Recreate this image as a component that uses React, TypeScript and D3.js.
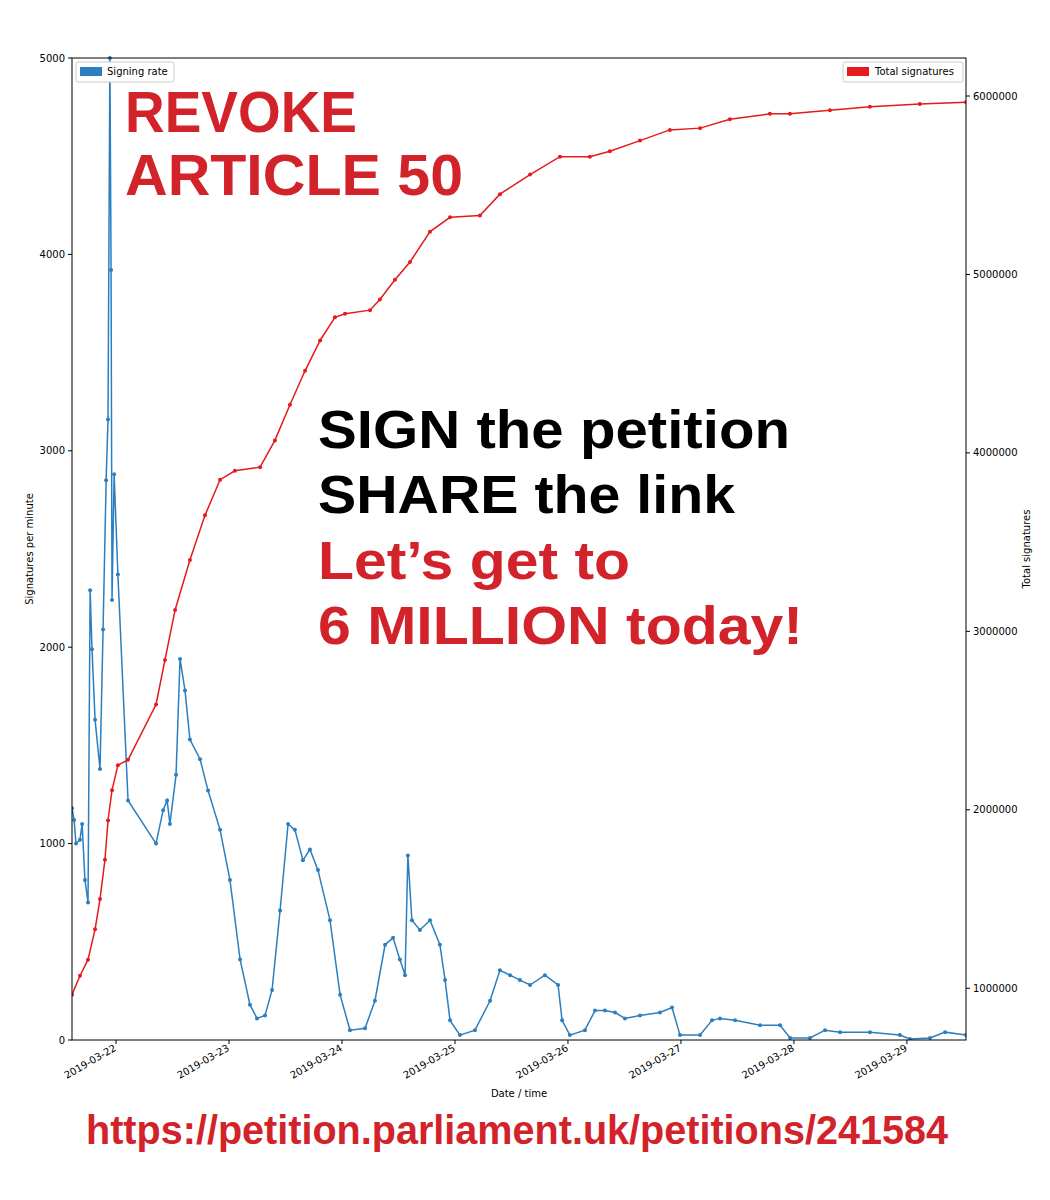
import React from "react";
import * as d3 from "d3";

// hours after 2019-03-21 00:00
const rateHours = [14.65, 15.1, 15.5, 16.35, 16.8, 17.4, 18.05, 18.5, 18.9, 19.55, 20.6, 21.25, 21.9, 22.3, 22.7, 22.95, 23.15, 23.6, 24.4, 26.55, 32.5, 34.0, 34.85, 35.45, 36.75, 37.6, 38.65, 39.7, 41.85, 43.55, 46.1, 48.2, 50.35, 52.45, 53.95, 55.65, 57.15, 58.85, 60.55, 62.0, 63.7, 65.2, 66.9, 69.45, 71.6, 73.7, 76.9, 79.0, 81.15, 82.85, 84.3, 85.4, 86.0, 86.85, 88.55, 90.7, 92.8, 93.9, 94.95, 97.05, 100.25, 103.45, 105.55, 107.7, 109.8, 111.95, 115.1, 117.9, 118.75, 120.4, 123.6, 125.75, 127.85, 130.0, 132.1, 135.3, 139.55, 142.1, 143.8, 148.05, 150.6, 152.3, 155.5, 160.8, 165.05, 167.2, 171.4, 174.6, 177.8, 184.15, 190.5, 192.65, 196.9, 200.1, 204.55];
const rateValues = [1180, 1120, 1000, 1020, 1100, 815, 700, 2290, 1990, 1630, 1380, 2090, 2850, 3160, 5000, 3920, 2240, 2880, 2370, 1220, 1000, 1170, 1220, 1100, 1350, 1940, 1780, 1530, 1430, 1270, 1070, 815, 410, 180, 110, 125, 255, 660, 1100, 1070, 915, 970, 865, 610, 230, 50, 60, 200, 485, 520, 410, 330, 940, 610, 560, 610, 485, 305, 100, 25, 50, 200, 355, 330, 305, 280, 330, 280, 100, 25, 50, 150, 150, 140, 110, 125, 140, 165, 25, 25, 100, 110, 100, 75, 75, 10, 10, 50, 40, 40, 25, 5, 10, 40, 25];

const totalHours = [14.65, 16.35, 18.05, 19.55, 20.6, 21.65, 22.3, 23.15, 24.4, 26.55, 32.5, 34.4, 36.55, 39.7, 42.9, 46.1, 49.25, 54.6, 57.75, 60.95, 64.15, 67.35, 70.5, 72.65, 77.95, 80.05, 83.25, 86.45, 90.7, 94.95, 101.3, 105.55, 111.95, 118.3, 124.65, 128.9, 135.3, 141.65, 148.05, 154.4, 162.9, 167.15, 175.65, 184.15, 194.75, 204.55];
const totalValues = [964000, 1070000, 1160000, 1330000, 1500000, 1720000, 1940000, 2110000, 2250000, 2280000, 2590000, 2840000, 3120000, 3400000, 3650000, 3850000, 3900000, 3920000, 4070000, 4270000, 4460000, 4630000, 4760000, 4780000, 4800000, 4860000, 4970000, 5070000, 5240000, 5320000, 5330000, 5450000, 5560000, 5660000, 5660000, 5690000, 5750000, 5810000, 5820000, 5870000, 5900000, 5900000, 5920000, 5940000, 5955000, 5965000];

const leftTicks = [0, 1000, 2000, 3000, 4000, 5000];
const rightTicks = [1000000, 2000000, 3000000, 4000000, 5000000, 6000000];

const BLUE = "#2b7fbf";
const RED = "#e41a1c";
const TXTRED = "#d2232a";
const FONT = "DejaVu Sans, sans-serif";
const HEAVY = "Liberation Sans, Arial, sans-serif";

const t0 = new Date(2019, 2, 21).getTime();
const toDate = (h: number) => new Date(t0 + h * 3600000);

export default function App() {
  const L = 72, R = 966, T = 58, B = 1040;
  const x = d3.scaleTime().domain([toDate(14.65), toDate(204.55)]).range([L, R]);
  const yL = d3.scaleLinear().domain([0, 5000]).range([B, T]);
  const yR = d3.scaleLinear().domain([710000, 6213000]).range([B, T]);
  const fmt = d3.timeFormat("%Y-%m-%d");
  const days = d3.timeDay.range(toDate(24), toDate(205));

  const rate = rateHours.map((h, i) => [x(toDate(h)), yL(rateValues[i])] as [number, number]);
  const total = totalHours.map((h, i) => [x(toDate(h)), yR(totalValues[i])] as [number, number]);
  const line = d3.line();

  return (
    <svg width={1050} height={1200} style={{ position: "absolute", left: 0, top: 0, background: "#fff" }} fontFamily={FONT}>
      <rect width={1050} height={1200} fill="#fff" />
      <defs>
        <clipPath id="plot"><rect x={L} y={T - 2} width={R - L} height={B - T + 2} /></clipPath>
      </defs>
      <g clipPath="url(#plot)">
        <path d={line(rate) || ""} fill="none" stroke={BLUE} strokeWidth={1.5} />
        {rate.map((p, i) => <circle key={i} cx={p[0]} cy={p[1]} r={2} fill={BLUE} />)}
        <path d={line(total) || ""} fill="none" stroke={RED} strokeWidth={1.5} />
        {total.map((p, i) => <circle key={i} cx={p[0]} cy={p[1]} r={2} fill={RED} />)}
      </g>
      <rect x={L} y={T} width={R - L} height={B - T} fill="none" stroke="#000" strokeWidth={1} />
      {leftTicks.map(v => (
        <g key={v} transform={`translate(${L},${yL(v)})`}>
          <line x2={-4} stroke="#000" />
          <text x={-7} dy="0.35em" textAnchor="end" fontSize={10}>{v}</text>
        </g>
      ))}
      {rightTicks.map(v => (
        <g key={v} transform={`translate(${R},${yR(v)})`}>
          <line x2={4} stroke="#000" />
          <text x={7} dy="0.35em" fontSize={10}>{v}</text>
        </g>
      ))}
      {days.map(d => (
        <g key={d.getTime()} transform={`translate(${x(d)},${B})`}>
          <line y2={4} stroke="#000" />
          <text transform="translate(1,10) rotate(-30)" textAnchor="end" fontSize={10}>{fmt(d)}</text>
        </g>
      ))}
      <text x={519} y={1097} textAnchor="middle" fontSize={10}>Date / time</text>
      <text transform={`translate(33,549) rotate(-90)`} textAnchor="middle" fontSize={10}>Signatures per minute</text>
      <text transform={`translate(1030,549) rotate(-90)`} textAnchor="middle" fontSize={10}>Total signatures</text>

      <rect x={76} y={62} width={98} height={20} fill="#fff" stroke="#ccc" rx={2} />
      <rect x={80} y={67} width={22} height={9} fill={BLUE} />
      <text x={107} y={75} fontSize={10}>Signing rate</text>
      <rect x={843} y={62} width={120} height={20} fill="#fff" stroke="#ccc" rx={2} />
      <rect x={847} y={67} width={22} height={9} fill={RED} />
      <text x={875} y={75} fontSize={10}>Total signatures</text>

      <g fontFamily={HEAVY} fontWeight={900}>
        <text x={125} y={132} fontSize={58} fill={TXTRED} textLength={232} lengthAdjust="spacingAndGlyphs">REVOKE</text>
        <text x={125} y={195} fontSize={58} fill={TXTRED} textLength={338} lengthAdjust="spacingAndGlyphs">ARTICLE 50</text>
        <text x={318} y={448} fontSize={54} fill="#000" textLength={472} lengthAdjust="spacingAndGlyphs">SIGN the petition</text>
        <text x={318} y={513} fontSize={54} fill="#000" textLength={417} lengthAdjust="spacingAndGlyphs">SHARE the link</text>
        <text x={318} y={579} fontSize={54} fill={TXTRED} textLength={312} lengthAdjust="spacingAndGlyphs">Let’s get to</text>
        <text x={318} y={644} fontSize={54} fill={TXTRED} textLength={485} lengthAdjust="spacingAndGlyphs">6 MILLION today!</text>
        <text x={86} y={1144} fontSize={40} fill={TXTRED} textLength={862} lengthAdjust="spacingAndGlyphs">https://petition.parliament.uk/petitions/241584</text>
      </g>
    </svg>
  );
}
